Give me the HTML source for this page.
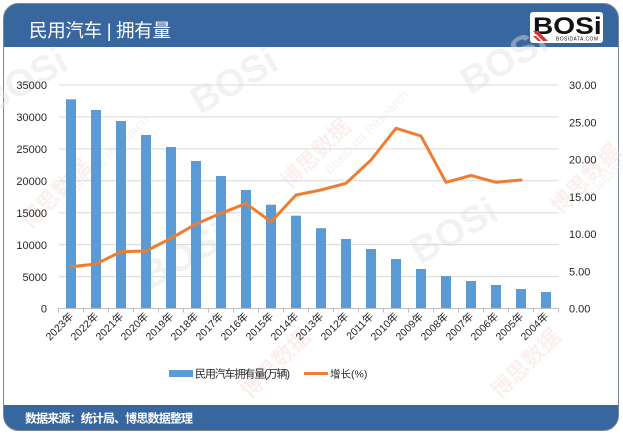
<!DOCTYPE html>
<html>
<head>
<meta charset="utf-8">
<style>
  html,body{margin:0;padding:0;background:#fff;}
  svg{display:block;}
  text{font-family:"Liberation Sans","Noto Sans CJK SC",sans-serif;}
</style>
</head>
<body>
<svg width="623" height="434" viewBox="0 0 623 434" xmlns="http://www.w3.org/2000/svg">
  <defs>
    <clipPath id="frame">
      <rect x="3.5" y="3.5" width="615" height="427" rx="15" ry="15"/>
    </clipPath>
  </defs>

  <!-- frame -->
  <rect x="3.5" y="3.5" width="615" height="427" rx="15" ry="15" fill="#fff"/>
  <g clip-path="url(#frame)">
    <rect x="0" y="0" width="623" height="47" fill="#38679f"/>
    <rect x="0" y="405" width="623" height="30" fill="#38679f"/>
  </g>
  <rect x="3.5" y="3.5" width="615" height="427" rx="15" ry="15" fill="none" stroke="#7a8798" stroke-width="1"/>

  <!-- watermarks -->
  <g opacity="0.45">
    <g font-family="Liberation Sans, sans-serif" font-weight="bold" fill="#e2e2e2" font-size="38">
      <text x="200" y="115" transform="rotate(-30 200 115)">BOSi</text>
      <text x="470" y="95" transform="rotate(-30 470 95)">BOSi</text>
      <text x="-10" y="115" transform="rotate(-30 -10 115)">BOSi</text>
      <text x="150" y="290" transform="rotate(-30 150 290)">BOSi</text>
      <text x="420" y="265" transform="rotate(-30 420 265)">BOSi</text>
    </g>
    <g fill="#f6dede" font-size="22" font-family="Noto Sans CJK SC, sans-serif" font-weight="bold">
      <text x="30" y="230" transform="rotate(-45 30 230)">博思数据</text>
      <text x="290" y="190" transform="rotate(-45 290 190)">博思数据</text>
      <text x="560" y="215" transform="rotate(-45 560 215)">博思数据</text>
      <text x="250" y="400" transform="rotate(-45 250 400)">博思数据</text>
      <text x="500" y="400" transform="rotate(-45 500 400)">博思数据</text>
    </g>
    <g fill="#e4e4e4" font-size="13">
      <text x="70" y="200" transform="rotate(-45 70 200)">BosiData Research</text>
      <text x="330" y="175" transform="rotate(-45 330 175)">BosiData Research</text>
      <text x="590" y="200" transform="rotate(-45 590 200)">BosiData Research</text>
    </g>
  </g>

  <!-- header title -->
  <text x="29" y="37" fill="#ffffff" font-size="18.5" textLength="142" font-family="Liberation Sans, Noto Sans CJK SC, sans-serif">民用汽车 | 拥有量</text>

  <!-- logo -->
  <rect x="530" y="12" width="73" height="31" rx="3" fill="#ffffff"/>
  <text transform="translate(533,34) scale(1.17,1)" font-size="24" font-weight="bold" fill="#111" font-family="Liberation Sans, sans-serif">BOSi</text>
  <polygon points="533,31 538,31 548,41 543,41" fill="#d9343a"/>
  <polygon points="533,36 536,36 541,41 538,41" fill="#d9343a"/>
  <text x="556" y="40.5" font-size="5" fill="#111" textLength="42" font-family="Liberation Sans, sans-serif">BOSIDATA.COM</text>

  <!-- gridlines -->
  <g stroke="#d9d9d9" stroke-width="1">
    <line x1="58.5" x2="558.5" y1="85.0" y2="85.0"/>
    <line x1="58.5" x2="558.5" y1="116.9" y2="116.9"/>
    <line x1="58.5" x2="558.5" y1="148.9" y2="148.9"/>
    <line x1="58.5" x2="558.5" y1="180.8" y2="180.8"/>
    <line x1="58.5" x2="558.5" y1="212.7" y2="212.7"/>
    <line x1="58.5" x2="558.5" y1="244.6" y2="244.6"/>
    <line x1="58.5" x2="558.5" y1="276.6" y2="276.6"/>
  </g>

  <!-- left axis labels -->
  <g font-size="11" fill="#262626" text-anchor="end">
    <text x="47" y="89">35000</text>
    <text x="47" y="121">30000</text>
    <text x="47" y="153">25000</text>
    <text x="47" y="185">20000</text>
    <text x="47" y="217">15000</text>
    <text x="47" y="249">10000</text>
    <text x="47" y="281">5000</text>
    <text x="47" y="312.5">0</text>
  </g>
  <!-- right axis labels -->
  <g font-size="11" fill="#262626">
    <text x="569" y="89">30.00</text>
    <text x="569" y="126.3">25.00</text>
    <text x="569" y="163.5">20.00</text>
    <text x="569" y="200.8">15.00</text>
    <text x="569" y="238">10.00</text>
    <text x="569" y="275.3">5.00</text>
    <text x="569" y="312.5">0.00</text>
  </g>

  <!-- bars -->
  <g fill="#5b9bd5">
    <rect x="66" y="99.3" width="10" height="209.2"/>
    <rect x="91" y="110" width="10" height="198.5"/>
    <rect x="116" y="121" width="10" height="187.5"/>
    <rect x="141" y="135" width="10" height="173.5"/>
    <rect x="166" y="147" width="10" height="161.5"/>
    <rect x="191" y="161" width="10" height="147.5"/>
    <rect x="216" y="176" width="10" height="132.5"/>
    <rect x="241" y="190" width="10" height="118.5"/>
    <rect x="266" y="204.7" width="10" height="103.8"/>
    <rect x="291" y="215.7" width="10" height="92.8"/>
    <rect x="316" y="228.2" width="10" height="80.3"/>
    <rect x="341" y="239" width="10" height="69.5"/>
    <rect x="366" y="249" width="10" height="59.5"/>
    <rect x="391" y="259" width="10" height="49.5"/>
    <rect x="416" y="269" width="10" height="39.5"/>
    <rect x="441" y="276" width="10" height="32.5"/>
    <rect x="466" y="281" width="10" height="27.5"/>
    <rect x="491" y="285" width="10" height="23.5"/>
    <rect x="516" y="289" width="10" height="19.5"/>
    <rect x="541" y="292" width="10" height="16.5"/>
  </g>

  <!-- x axis -->
  <line x1="58.5" x2="558.5" y1="308.5" y2="308.5" stroke="#bfbfbf" stroke-width="1"/>
  <g stroke="#bfbfbf" stroke-width="1">
    <line x1="58.5" x2="58.5" y1="308.5" y2="312.5"/>
    <line x1="83.5" x2="83.5" y1="308.5" y2="312.5"/>
    <line x1="108.5" x2="108.5" y1="308.5" y2="312.5"/>
    <line x1="133.5" x2="133.5" y1="308.5" y2="312.5"/>
    <line x1="158.5" x2="158.5" y1="308.5" y2="312.5"/>
    <line x1="183.5" x2="183.5" y1="308.5" y2="312.5"/>
    <line x1="208.5" x2="208.5" y1="308.5" y2="312.5"/>
    <line x1="233.5" x2="233.5" y1="308.5" y2="312.5"/>
    <line x1="258.5" x2="258.5" y1="308.5" y2="312.5"/>
    <line x1="283.5" x2="283.5" y1="308.5" y2="312.5"/>
    <line x1="308.5" x2="308.5" y1="308.5" y2="312.5"/>
    <line x1="333.5" x2="333.5" y1="308.5" y2="312.5"/>
    <line x1="358.5" x2="358.5" y1="308.5" y2="312.5"/>
    <line x1="383.5" x2="383.5" y1="308.5" y2="312.5"/>
    <line x1="408.5" x2="408.5" y1="308.5" y2="312.5"/>
    <line x1="433.5" x2="433.5" y1="308.5" y2="312.5"/>
    <line x1="458.5" x2="458.5" y1="308.5" y2="312.5"/>
    <line x1="483.5" x2="483.5" y1="308.5" y2="312.5"/>
    <line x1="508.5" x2="508.5" y1="308.5" y2="312.5"/>
    <line x1="533.5" x2="533.5" y1="308.5" y2="312.5"/>
    <line x1="558.5" x2="558.5" y1="308.5" y2="312.5"/>
  </g>

  <!-- line series -->
  <polyline fill="none" stroke="#ed7d31" stroke-width="3" stroke-linejoin="round" stroke-linecap="round"
    points="71,266.7 96,264 121,251.7 146,251 171,238.3 196,224 221,213.3 246,203.5 271,221.7 296,195 321,190 346,183.3 371,160 396,128.3 421,136 446,182.3 471,175.5 496,182.3 521,180"/>

  <!-- x labels -->
  <g font-size="10.5" fill="#262626" text-anchor="end">
    <text transform="translate(74,317) rotate(-45)">2023年</text>
    <text transform="translate(99,317) rotate(-45)">2022年</text>
    <text transform="translate(124,317) rotate(-45)">2021年</text>
    <text transform="translate(149,317) rotate(-45)">2020年</text>
    <text transform="translate(174,317) rotate(-45)">2019年</text>
    <text transform="translate(199,317) rotate(-45)">2018年</text>
    <text transform="translate(224,317) rotate(-45)">2017年</text>
    <text transform="translate(249,317) rotate(-45)">2016年</text>
    <text transform="translate(274,317) rotate(-45)">2015年</text>
    <text transform="translate(299,317) rotate(-45)">2014年</text>
    <text transform="translate(324,317) rotate(-45)">2013年</text>
    <text transform="translate(349,317) rotate(-45)">2012年</text>
    <text transform="translate(374,317) rotate(-45)">2011年</text>
    <text transform="translate(399,317) rotate(-45)">2010年</text>
    <text transform="translate(424,317) rotate(-45)">2009年</text>
    <text transform="translate(449,317) rotate(-45)">2008年</text>
    <text transform="translate(474,317) rotate(-45)">2007年</text>
    <text transform="translate(499,317) rotate(-45)">2006年</text>
    <text transform="translate(524,317) rotate(-45)">2005年</text>
    <text transform="translate(549,317) rotate(-45)">2004年</text>
  </g>

  <!-- legend -->
  <rect x="169" y="370" width="24" height="7" fill="#5b9bd5"/>
  <text x="195" y="377.5" font-size="11" fill="#262626" textLength="95">民用汽车拥有量(万辆)</text>
  <line x1="304" x2="328" y1="373.5" y2="373.5" stroke="#ed7d31" stroke-width="3"/>
  <text x="330" y="377.5" font-size="10.5" fill="#262626">增长(%)</text>

  <!-- footer text -->
  <text x="25" y="422.5" font-size="12" font-weight="bold" fill="#ffffff" textLength="168">数据来源：统计局、博思数据整理</text>
</svg>
</body>
</html>
